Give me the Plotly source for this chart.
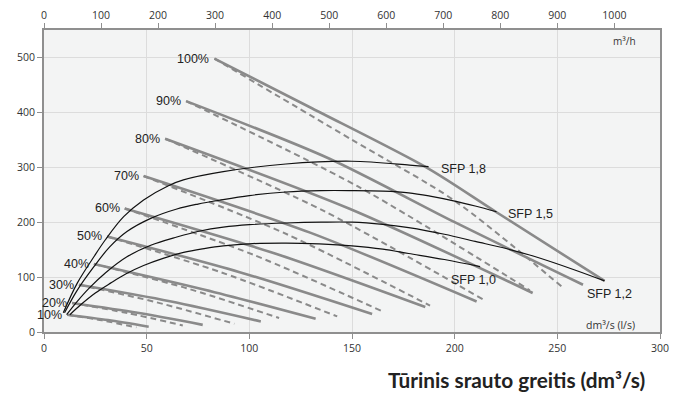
import plotly.graph_objects as go

# ---- fan curves (l/s, Pa) ----
speeds = ["10%", "20%", "30%", "40%", "50%", "60%", "70%", "80%", "90%", "100%"]

solid_x = [
    [11.3, 31.2, 51.0],
    [13.7, 45.5, 77.3],
    [17.0, 61.3, 105.6],
    [24.3, 78.3, 132.3],
    [30.7, 95.3, 159.8],
    [39.3, 112.5, 185.7],
    [48.5, 129.6, 210.7],
    [59.0, 148.5, 238.0],
    [69.2, 138.8, 200.0, 262.5],
    [83.0, 130.7, 187.0, 220.0, 273.0],
]
solid_y = [
    [31.5, 21.7, 9.6],
    [52.7, 34.9, 13.0],
    [86.0, 56.0, 19.3],
    [124.0, 77.0, 24.0],
    [174.0, 109.0, 32.7],
    [225.0, 143.0, 45.5],
    [284.0, 181.0, 55.6],
    [352.0, 225.0, 71.0],
    [420.5, 316.0, 200.0, 86.0],
    [498.0, 407.0, 298.0, 219.0, 93.0],
]
dash_x = [
    [11.3, 28.2, 45.0],
    [13.7, 40.7, 67.6],
    [17.0, 54.9, 92.7],
    [24.3, 69.4, 114.5],
    [30.7, 86.8, 142.8],
    [39.3, 102.4, 165.5],
    [48.5, 118.3, 188.0],
    [59.0, 136.5, 214.0],
    [69.2, 152.9, 236.6],
    [83.0, 150.0, 200.0, 252.0],
]
dash_y = [
    [31.5, 21.2, 8.4],
    [52.7, 34.4, 12.0],
    [86.0, 54.0, 15.0],
    [124.0, 79.8, 25.5],
    [174.0, 108.0, 28.4],
    [225.0, 140.0, 36.4],
    [284.0, 178.0, 48.0],
    [352.0, 220.0, 59.0],
    [420.5, 265.0, 76.0],
    [498.0, 350.0, 239.0, 83.0],
]

# ---- SFP curves ----
sfp_names = ["SFP 1,8", "SFP 1,5", "SFP 1,2", "SFP 1,0"]
sfp_x = [
    [9.4, 16.2, 24.3, 29.9, 38.8, 48.5, 60.6, 67.9, 87.3, 117.8, 150, 178, 187.3],
    [10, 16, 24.3, 32, 40.4, 52, 64.7, 75, 85.4, 100, 117.8, 135, 150, 165, 177.6, 188, 200, 210, 220.4],
    [11, 16, 22, 30, 40.4, 52, 64.7, 76, 87.3, 100, 117.8, 135, 150, 165, 177.6, 195, 210, 225, 239, 258.5, 273],
    [12.6, 18, 25, 32.4, 40, 48.5, 58, 68, 78, 87.3, 101.6, 117.8, 134, 150, 165, 177.6, 195, 212.4],
]
sfp_y = [
    [35, 89, 137, 168, 210, 240.5, 266.5, 277, 292, 306, 311, 304, 301],
    [35, 75, 119, 155, 183, 207, 224, 233, 240, 248.5, 255, 257.5, 257.5, 256.5, 253.5, 247.5, 238.5, 229.5, 219],
    [31.5, 55, 80, 108, 137, 158, 173, 184, 191, 195.5, 198.5, 200, 200, 196, 190, 178, 165, 152, 137.5, 113, 93],
    [31.5, 50, 71, 89, 106, 121, 134, 145, 152, 157, 161, 162, 160.5, 157, 151, 143, 132, 119],
]

x_ticks = [0, 50, 100, 150, 200, 250, 300]
y_ticks = [0, 100, 200, 300, 400, 500]
top_ticks = [0, 100, 200, 300, 400, 500, 600, 700, 800, 900, 1000]

GREY = "#8a8a8a"
fig = go.Figure()

for xs, ys in zip(dash_x, dash_y):
    fig.add_trace(go.Scatter(x=xs, y=ys, mode="lines",
                             line=dict(color=GREY, width=2, dash="6px,4px", shape="spline", smoothing=0.8),
                             hoverinfo="skip", showlegend=False))
for xs, ys in zip(solid_x, solid_y):
    fig.add_trace(go.Scatter(x=xs, y=ys, mode="lines",
                             line=dict(color=GREY, width=2.6, shape="spline", smoothing=0.8),
                             hoverinfo="skip", showlegend=False))
for xs, ys in zip(sfp_x, sfp_y):
    fig.add_trace(go.Scatter(x=xs, y=ys, mode="lines",
                             line=dict(color="#111111", width=1.2, shape="spline", smoothing=1.0),
                             hoverinfo="skip", showlegend=False))

# invisible trace to carry the top (m3/h) axis
fig.add_trace(go.Scatter(x=[0], y=[0], xaxis="x2", mode="markers",
                         marker=dict(opacity=0), hoverinfo="skip", showlegend=False))

LBL = dict(family="Liberation Sans, Arial", size=12.5, color="#222222")
for name, xs, ys in zip(speeds, solid_x, solid_y):
    fig.add_annotation(x=xs[0], y=ys[0], text=name, showarrow=False,
                       xanchor="right", yanchor="middle", xshift=-3, font=LBL)

sfp_shift = [(10, -2), (9, -2), (-20, -13), (-31, -13)]
for name, xs, ys, (dx, dy) in zip(sfp_names, sfp_x, sfp_y, sfp_shift):
    fig.add_annotation(x=xs[-1], y=ys[-1], text=name, showarrow=False,
                       xanchor="left", yanchor="middle", xshift=dx, yshift=dy,
                       font=dict(family="Liberation Sans, Arial", size=12.5, color="#222222"))

fig.add_annotation(x=289.2, y=529.6, text="m³/h", showarrow=False, xanchor="right", yanchor="middle",
                   font=dict(family="Open Sans", size=10, color="#333333"))
fig.add_annotation(x=288.8, y=13.3, text="dm³/s (l/s)", showarrow=False, xanchor="right", yanchor="middle",
                   font=dict(family="Open Sans", size=10.5, color="#333333"))
fig.add_annotation(xref="paper", yref="paper", x=0.979, y=-0.158, text="<b>Tūrinis srauto greitis (dm³/s)</b>",
                   showarrow=False, xanchor="right", yanchor="middle",
                   font=dict(family="Lato", size=20.8, color="#222222"))

AX = dict(showline=True, linecolor="#8f8f8f", linewidth=2, mirror=True, ticks="outside",
          ticklen=5, tickcolor="#8f8f8f", zeroline=False, gridcolor="#dcdcdc", gridwidth=1,
          automargin=False,
          tickfont=dict(family="Open Sans", size=10.5, color="#333333"))

fig.update_layout(
    width=678, height=391,
    margin=dict(l=36, r=26, t=22, b=67),
    paper_bgcolor="white", plot_bgcolor="#f3f4f4",
    xaxis=dict(range=[0, 300], tickvals=x_ticks, **AX),
    yaxis=dict(range=[0, 550], tickvals=y_ticks, **AX),
    xaxis2=dict(overlaying="x", side="top", anchor="y", range=[0, 300 * 3.6], tickvals=top_ticks,
                showgrid=False, zeroline=False, showline=False, ticks="outside", ticklen=6,
                automargin=False,
                tickcolor="#8f8f8f", tickfont=dict(family="Open Sans", size=10.5, color="#333333")),
    showlegend=False,
)

fig.write_html("out.html")
